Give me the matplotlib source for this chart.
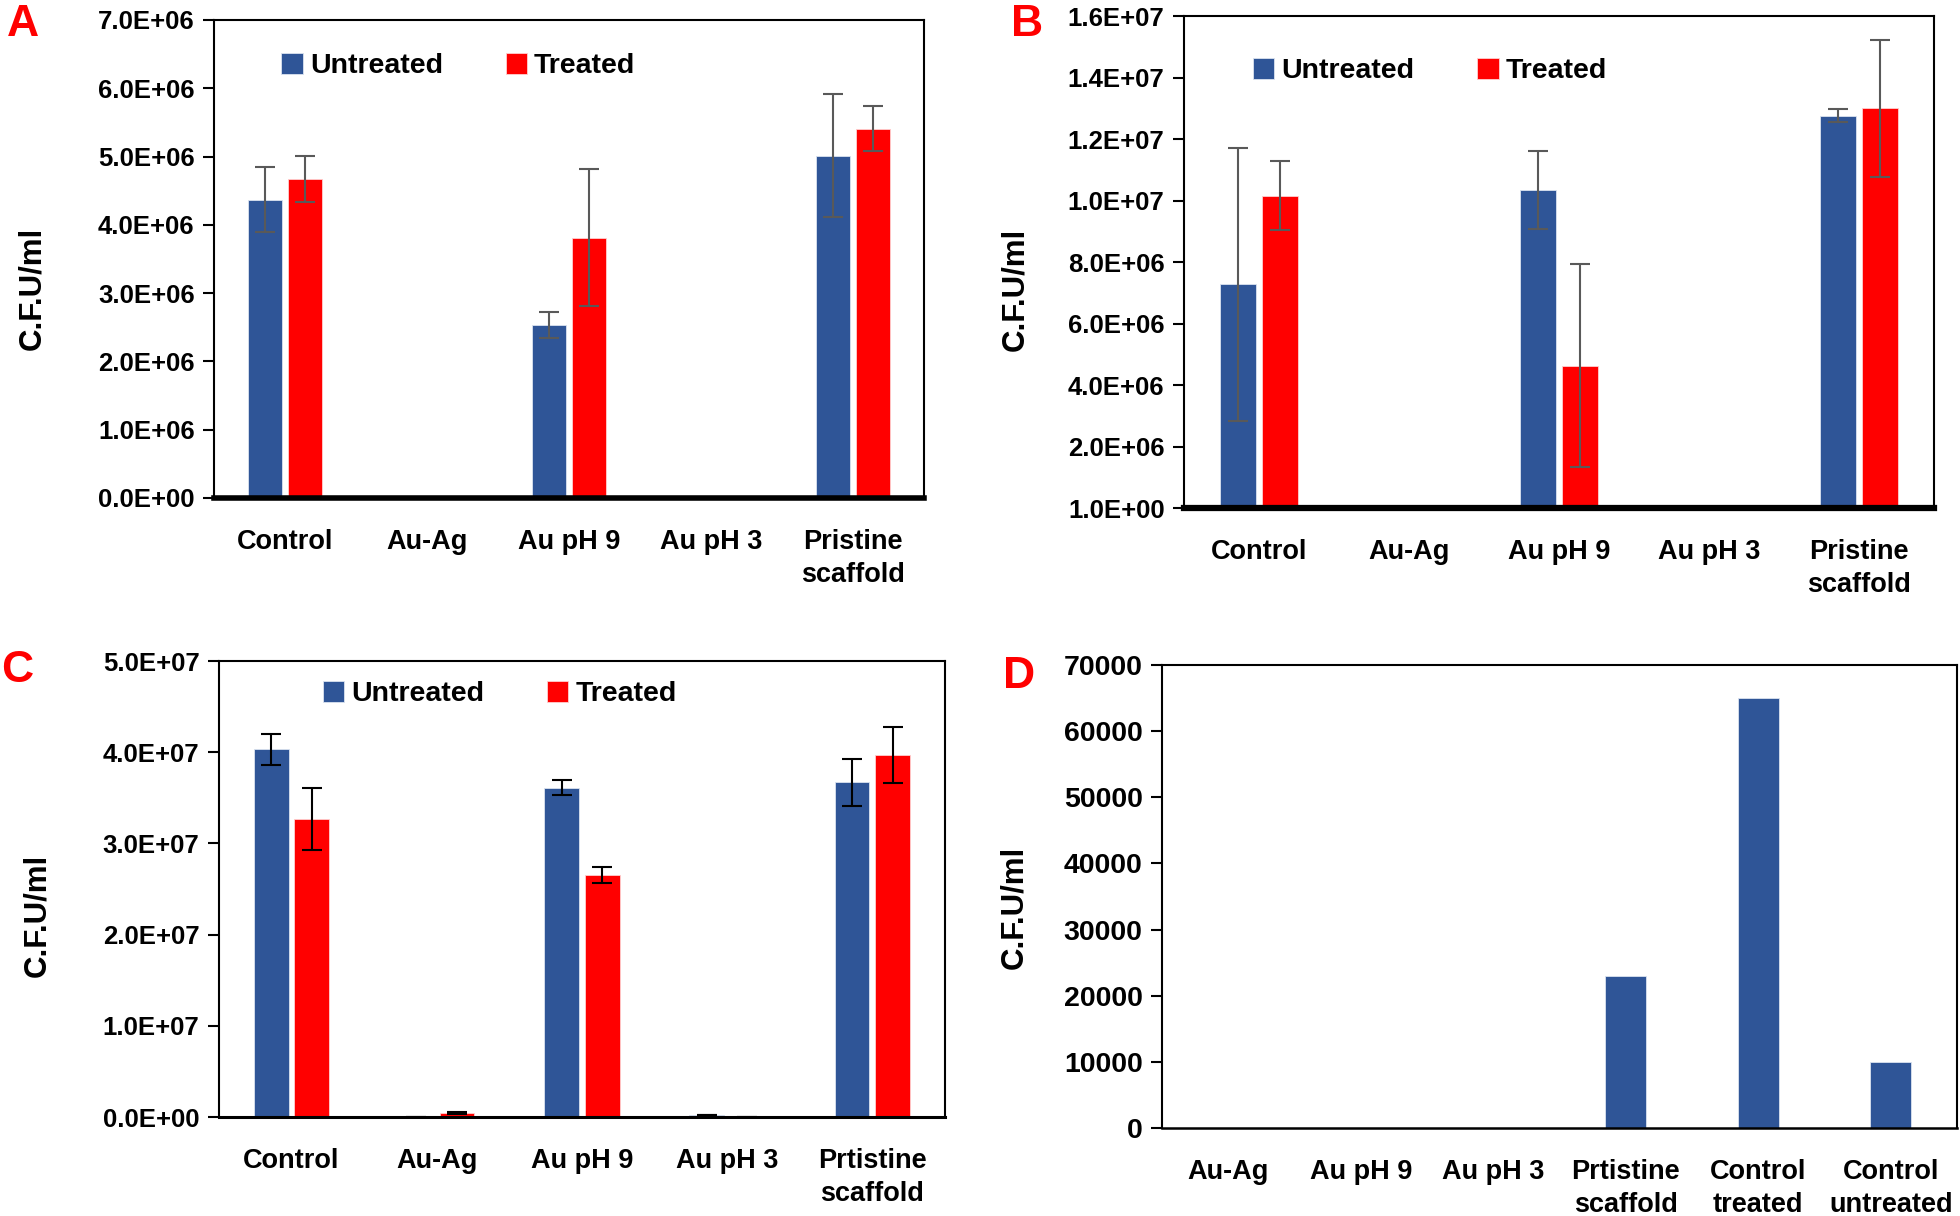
import numpy as np
import matplotlib
matplotlib.use("Agg")
import matplotlib.pyplot as plt
from matplotlib import font_manager

# fonts: bold sans for ticks/labels, like the Excel original
names = {f.name for f in font_manager.fontManager.ttflist}
narrow = "Liberation Sans Narrow" if "Liberation Sans Narrow" in names else "Liberation Sans"
plt.rcParams["font.family"] = [narrow, "DejaVu Sans"]

# %%
# data
cats_abc = ["Control", "Au-Ag", "Au pH 9", "Au pH 3", "Pristine\nscaffold"]
cats_c = ["Control", "Au-Ag", "Au pH 9", "Au pH 3", "Prtistine\nscaffold"]

a_untreated = [4.37e6, 0, 2.53e6, 0, 5.01e6]
a_untreated_err = [0.47e6, 0, 0.19e6, 0, 0.90e6]
a_treated = [4.67e6, 0, 3.81e6, 0, 5.41e6]
a_treated_err = [0.34e6, 0, 1.00e6, 0, 0.33e6]

b_untreated = [7.27e6, 0, 1.035e7, 0, 1.276e7]
b_untreated_err = [4.44e6, 0, 1.26e6, 0, 0.22e6]
b_treated = [1.016e7, 0, 4.63e6, 0, 1.30e7]
b_treated_err = [1.12e6, 0, 3.30e6, 0, 2.22e6]

c_untreated = [4.03e7, 0, 3.61e7, 1.7e5, 3.67e7]
c_untreated_err = [1.7e6, 0, 0.8e6, 0, 2.6e6]
c_treated = [3.27e7, 4.5e5, 2.655e7, 0, 3.97e7]
c_treated_err = [3.4e6, 1.0e5, 0.9e6, 0, 3.05e6]

d_cats = ["Au-Ag", "Au pH 9", "Au pH 3", "Prtistine\nscaffold", "Control\ntreated", "Control\nuntreated"]
d_values = [0, 0, 0, 23000, 65000, 10000]

BLUE = "#2F5597"
RED = "#FF0000"
CAT_FS = 19.5
BAR_W = 0.24
OFF = 0.14

fig = plt.figure(figsize=(19.6, 12.16), dpi=100)


def style_axis(ax, bottom_lw, ytick_fs):
    for s in ax.spines.values():
        s.set_linewidth(1.5)
        s.set_color("black")
    ax.spines["bottom"].set_linewidth(bottom_lw)
    ax.tick_params(axis="y", length=8, width=1.5, labelsize=ytick_fs, pad=6)
    ax.tick_params(axis="x", length=0, labelsize=CAT_FS, pad=22)
    for lab in ax.get_xticklabels() + ax.get_yticklabels():
        lab.set_fontweight("bold")
    for lab in ax.get_xticklabels():
        lab.set_linespacing(1.35)
        lab.set_verticalalignment("top")


def grouped(ax, cats, unt, unt_err, trt, trt_err, err_color, bottom_lw, leg_xy):
    x = np.arange(len(cats))
    ekw = dict(ecolor=err_color, elinewidth=1.5, capsize=7, capthick=1.5)
    ax.bar(x - OFF, unt, BAR_W, color=BLUE, edgecolor="#dbe3f0", linewidth=0.6,
           label="Untreated", yerr=unt_err, error_kw=ekw)
    ax.bar(x + OFF, trt, BAR_W, color=RED, edgecolor="#ffd0d0", linewidth=0.6,
           label="Treated", yerr=trt_err, error_kw=ekw)
    ax.set_xlim(-0.5, len(cats) - 0.5)
    ax.set_xticks(x)
    ax.set_xticklabels(cats)
    ax.legend(loc="center left", bbox_to_anchor=leg_xy, ncol=2, frameon=False,
              prop={"weight": "bold", "size": 20.5}, handlelength=0.75,
              handleheight=0.75, handletextpad=0.25, columnspacing=2.2,
              borderaxespad=0, borderpad=0)
    style_axis(ax, bottom_lw, 18.5)


def sci(v, pos):
    return "%.1E" % v


# %%
# A
axA = fig.add_axes([0.1092, 0.5905, 0.3622, 0.3931])
grouped(axA, cats_abc, a_untreated, a_untreated_err, a_treated, a_treated_err,
        "#595959", 4, (0.095, 0.904))
axA.set_ylim(0, 7e6)
axA.set_yticks(np.arange(0, 7.01e6, 1e6))
axA.yaxis.set_major_formatter(sci)

# B
axB = fig.add_axes([0.6041, 0.5822, 0.3827, 0.4046])
grouped(axB, cats_abc, b_untreated, b_untreated_err, b_treated, b_treated_err,
        "#595959", 4.5, (0.092, 0.888))
axB.set_ylim(1, 1.6e7 + 1)
axB.set_yticks(1 + np.arange(0, 1.61e7, 2e6))
axB.yaxis.set_major_formatter(sci)

# C
axC = fig.add_axes([0.1117, 0.0814, 0.3704, 0.375])
grouped(axC, cats_c, c_untreated, c_untreated_err, c_treated, c_treated_err,
        "black", 2.2, (0.143, 0.928))
axC.set_ylim(0, 5e7)
axC.set_yticks(np.arange(0, 5.01e7, 1e7))
axC.yaxis.set_major_formatter(sci)

# D
axD = fig.add_axes([0.5929, 0.0724, 0.4056, 0.3808])
xd = np.arange(len(d_cats))
axD.bar(xd, d_values, 0.31, color=BLUE, edgecolor="#dbe3f0", linewidth=0.6)
axD.set_xlim(-0.5, len(d_cats) - 0.5)
axD.set_xticks(xd)
axD.set_xticklabels(d_cats)
axD.set_ylim(0, 70000)
axD.set_yticks(np.arange(0, 70001, 10000))
style_axis(axD, 1.8, 20.5)

# y labels (pixel centres)
for px, py in [(32, 288), (1015, 289), (37, 915), (1014, 907)]:
    fig.text(px / 1960, 1 - py / 1216, "C.F.U/ml", rotation=90, ha="center", va="center",
             fontsize=22.5, fontweight="bold", family=["Liberation Sans", "DejaVu Sans"])

# panel letters
for letter, (px, py) in [("A", (23, 24)), ("B", (1027, 25)), ("C", (17, 671)), ("D", (1019, 676))]:
    fig.text(px / 1960, 1 - py / 1216, letter, color="red", fontsize=32,
             fontweight="bold", ha="center", va="center",
             family=["Liberation Sans", "DejaVu Sans"])

fig.savefig("out.png", dpi=100)
